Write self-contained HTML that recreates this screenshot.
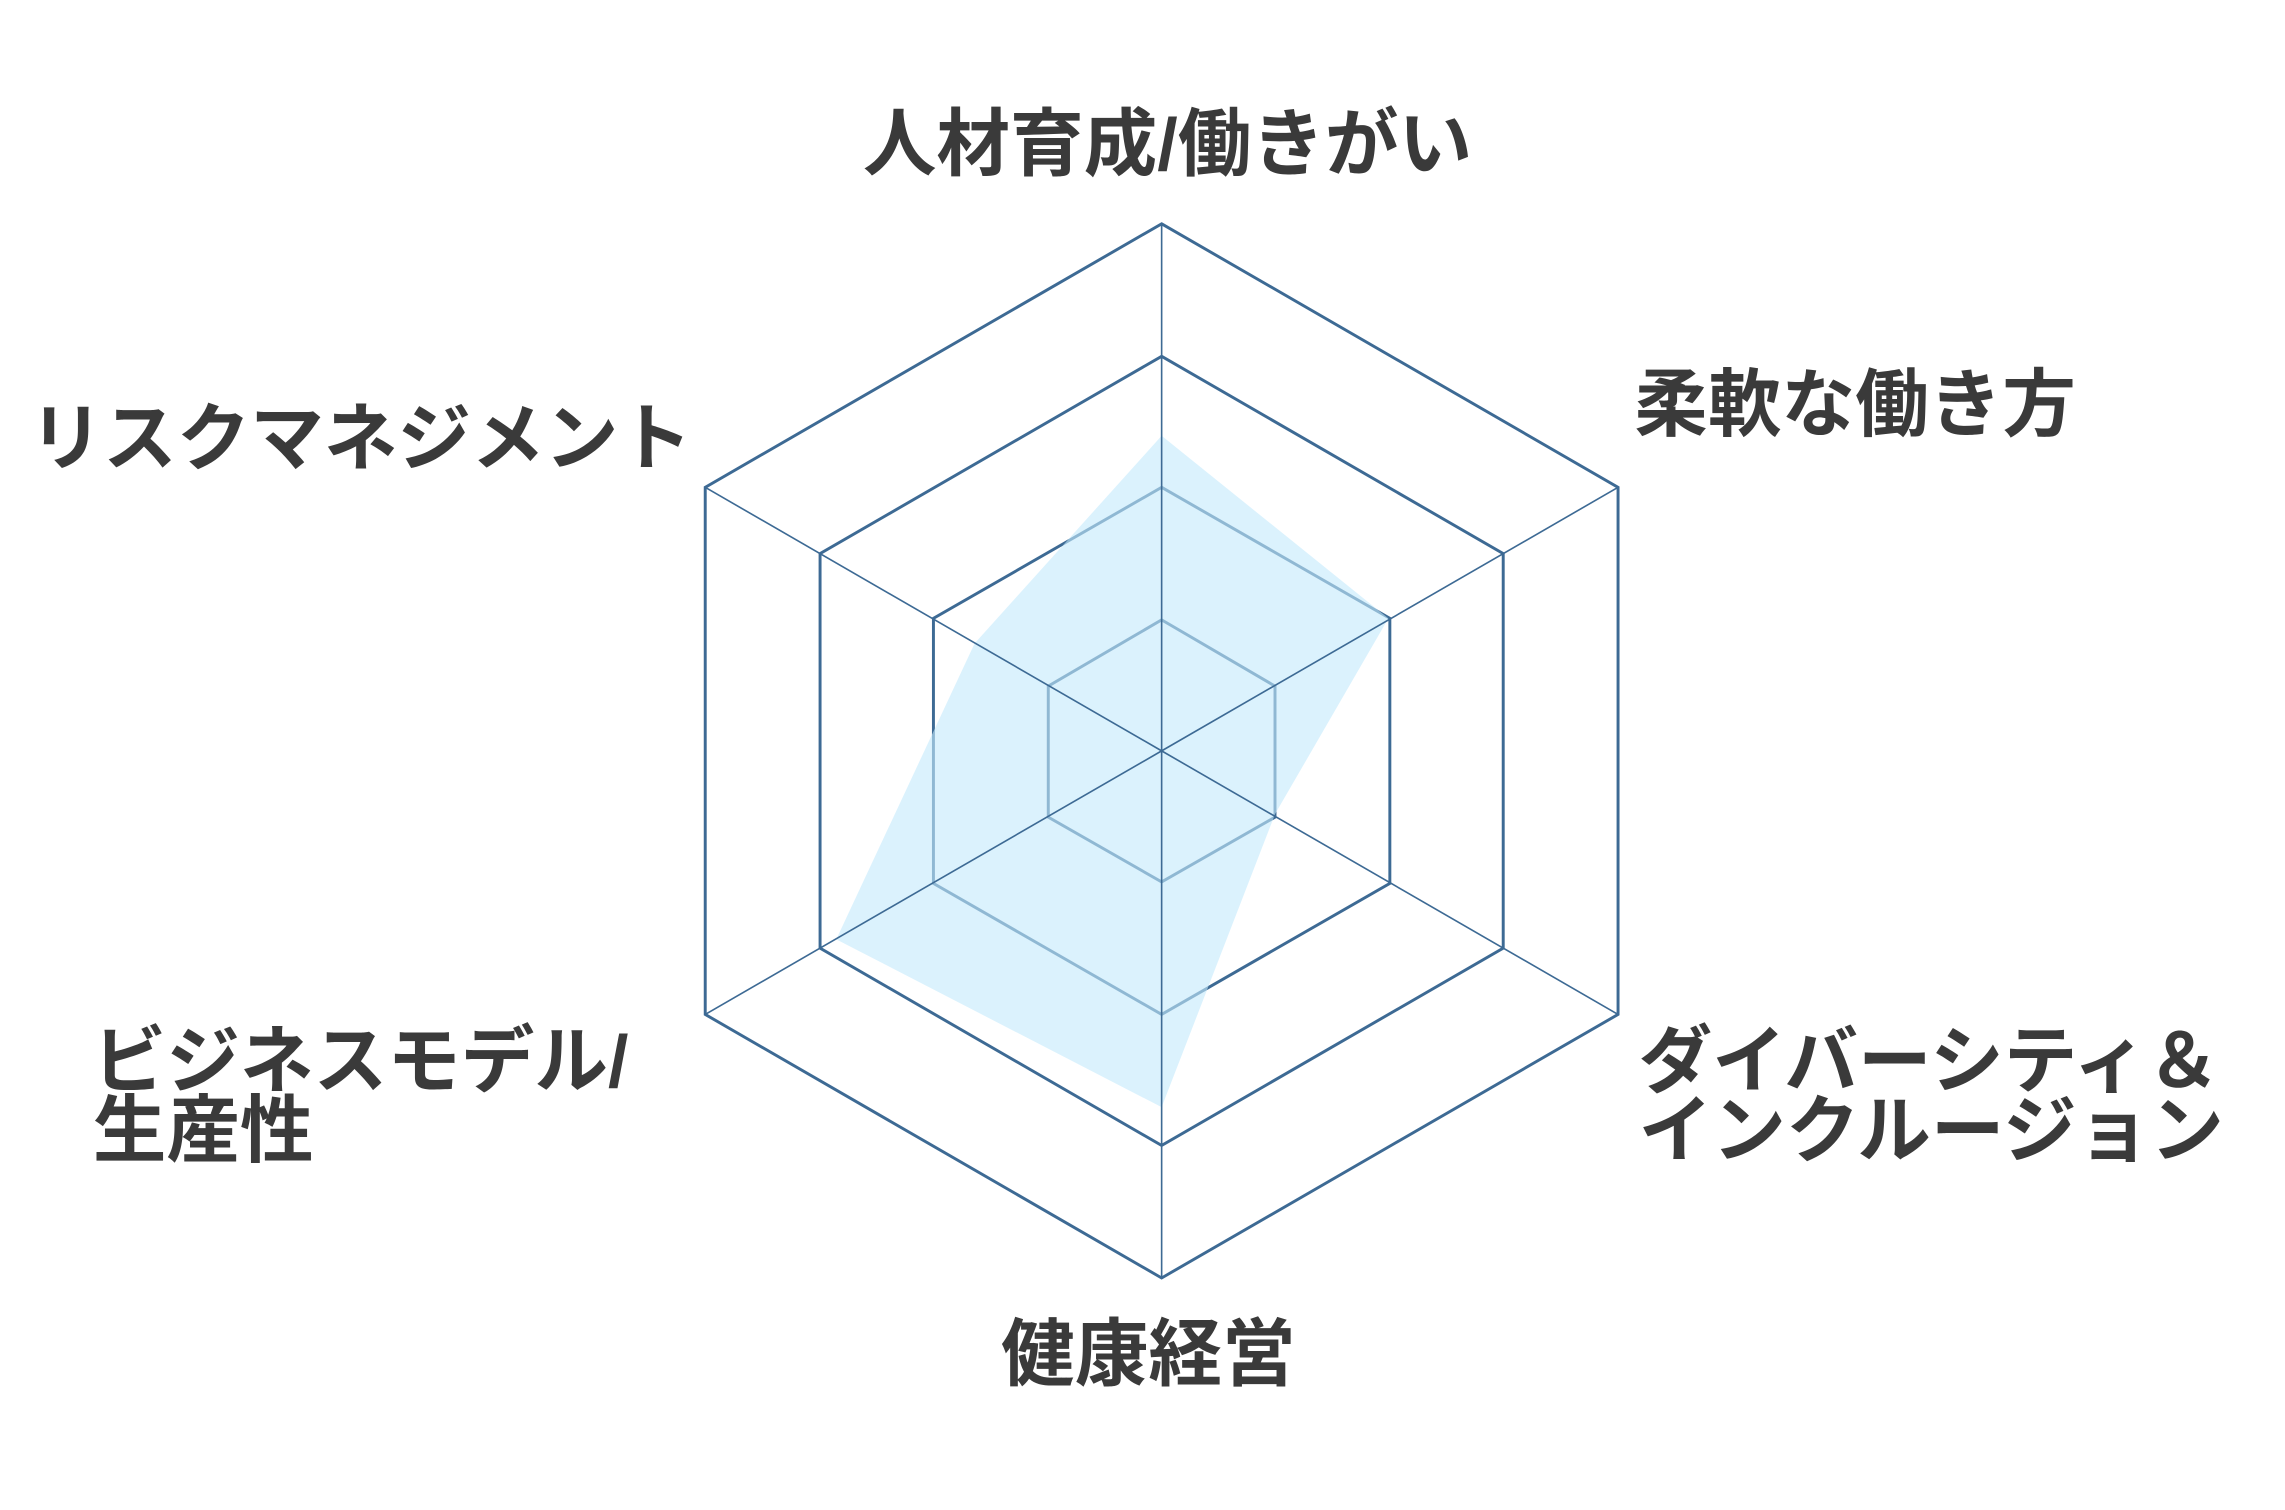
<!DOCTYPE html>
<html><head><meta charset="utf-8"><style>
html,body{margin:0;padding:0;background:#fff;}
svg{display:block;}
text{font-family:"Liberation Sans","Noto Sans CJK JP",sans-serif;font-weight:bold;fill:#3a3a3a;font-size:50px;}
</style></head><body>
<svg width="2285" height="1510" viewBox="0 0 1552 1025.6" preserveAspectRatio="none" xmlns="http://www.w3.org/2000/svg">
<g fill="none" stroke="#3d6a94" stroke-width="2">
<polygon points="789,152 1099,331 1099,689 789,868 479,689 479,331"/>
<polygon points="789,242 1021,376 1021,644 789,778 557,644 557,376"/>
<polygon points="789,331 944,420 944,600 789,689 634,600 634,420"/>
<polygon points="789,421 866,466 866,555 789,599 712,555 712,466"/>
</g>
<polygon points="789,296 943,420 866,553 789,752 568,638 662,437" fill="rgb(196,234,252)" fill-opacity="0.61"/>
<g stroke="#3d6a94" stroke-width="1.1">
<line x1="789" y1="510" x2="789" y2="152"/>
<line x1="789" y1="510" x2="1099" y2="331"/>
<line x1="789" y1="510" x2="1099" y2="689"/>
<line x1="789" y1="510" x2="789" y2="868"/>
<line x1="789" y1="510" x2="479" y2="689"/>
<line x1="789" y1="510" x2="479" y2="331"/>
</g>
<text x="793" y="115" text-anchor="middle">人材育成/働きがい</text>
<text x="1110" y="292">柔軟な働き方</text>
<text x="1113" y="738">ダイバーシティ＆</text>
<text x="1113" y="785">インクルージョン</text>
<text x="780" y="937" text-anchor="middle">健康経営</text>
<text x="63" y="738">ビジネスモデル/</text>
<text x="63" y="785">生産性</text>
<text x="470" y="315" text-anchor="end">リスクマネジメント</text>
</svg>
</body></html>
